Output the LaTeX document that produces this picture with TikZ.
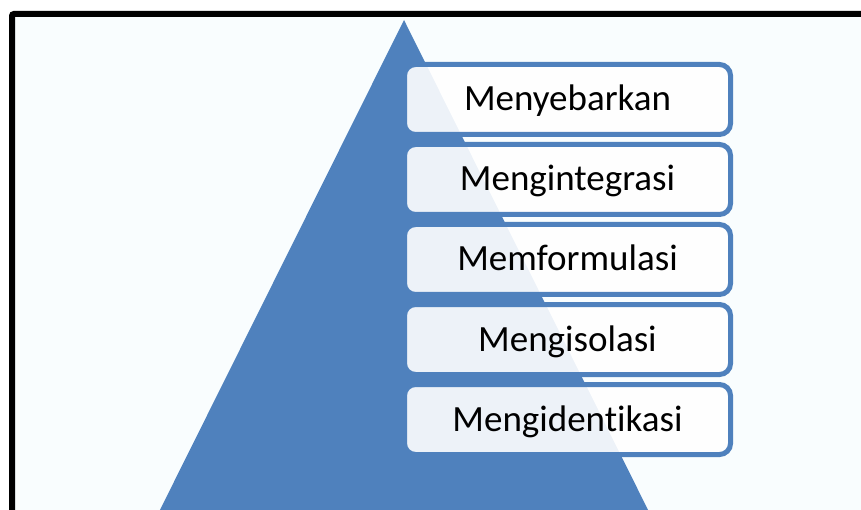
\documentclass[tikz,border=0pt]{standalone}
\usepackage{fontspec}
\setmainfont[Ligatures=NoCommon]{Carlito}
\definecolor{triblue}{HTML}{4F81BD}
\definecolor{bgpale}{HTML}{F9FDFE}
\begin{document}
\begin{tikzpicture}[x=1pt,y=-1pt,
  stepbox/.style={draw=triblue,line width=5pt,fill=white,fill opacity=0.9,text opacity=1,
    rounded corners=11pt,minimum width=326pt,minimum height=70pt,inner sep=0pt,
    font=\fontsize{37}{42}\selectfont,text=black,text height=23pt,text depth=0pt}]
\useasboundingbox (0,0) rectangle (861,510);
\begin{scope}
\clip (0,0) rectangle (861,510);
\draw[line width=6pt,fill=bgpale,rounded corners=2pt] (12,14) rectangle (920,600);
\fill[triblue] (404,20) -- (140,550) -- (668,550) -- cycle;
\end{scope}
\node[stepbox] (s1) at (567.5,99.5) {Menyebarkan};
\node[stepbox] (s2) at (567.5,179.5) {Mengintegrasi};
\node[stepbox] (s3) at (567.5,259.5) {Memformulasi};
\node[stepbox] (s4) at (567.5,339.5) {Mengisolasi};
\node[stepbox] (s5) at (567.5,419.5) {Mengidentikasi};
\end{tikzpicture}
\end{document}
